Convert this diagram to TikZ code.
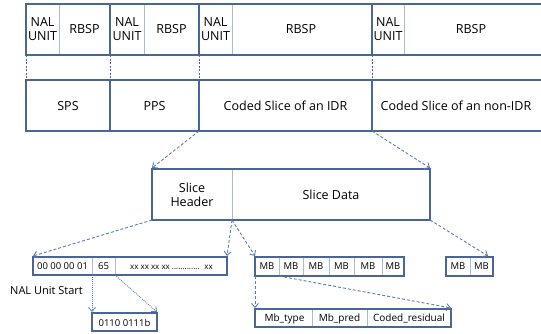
\documentclass[tikz,border=0pt]{standalone}
\usepackage{fontspec}
\setmainfont{Open Sans}
\usetikzlibrary{arrows.meta}
\usepackage{xcolor}
\definecolor{frameblue}{RGB}{74,102,148}
\definecolor{lineblue}{RGB}{165,188,218}
\definecolor{arrowblue}{RGB}{88,124,188}
\tikzset{
  frame/.style={frameblue, line width=1.6pt, line cap=rect},
  divider/.style={lineblue, line width=0.9pt},
  gap/.style={frameblue, dash pattern=on 2pt off 1.5pt, line width=0.7pt},
  link/.style={arrowblue, dash pattern=on 3pt off 2pt, line width=0.9pt, -{Straight Barb[length=4pt,width=7pt]}},
  dotlink/.style={arrowblue, dash pattern=on 1pt off 1pt, line width=0.8pt, -{Straight Barb[length=4pt,width=7pt]}},
  lbl/.style={font=\fontsize{12.5}{14}\selectfont, align=center, inner sep=0pt},
  small/.style={font=\fontsize{9.5}{11}\selectfont, inner sep=0pt}
}
\begin{document}
\begin{tikzpicture}[x=1pt,y=-1pt]
\useasboundingbox (0,0) rectangle (541,333);
% NAL stream rows
\foreach \y in {4,55,80,131} \draw[frame] (26,\y) -- (545,\y);
\foreach \x in {26,110,199,372} {
  \draw[frame] (\x,4) -- (\x,55);
  \draw[gap] (\x,55) -- (\x,80);
  \draw[frame] (\x,80) -- (\x,131);
}
\foreach \x in {59,144,232,404} \draw[divider] (\x,4.8) -- (\x,54.2);
\node[lbl] (nalA) at (42.5,29.5) {NAL\\UNIT};
\node[lbl] (rbspA) at (84.5,29.5) {RBSP};
\node[lbl] (nalB) at (127,29.5) {NAL\\UNIT};
\node[lbl] (rbspB) at (171.5,29.5) {RBSP};
\node[lbl] (nalC) at (215.5,29.5) {NAL\\UNIT};
\node[lbl] (rbspC) at (301,29.5) {RBSP};
\node[lbl] (nalD) at (388,29.5) {NAL\\UNIT};
\node[lbl] (rbspD) at (471,29.5) {RBSP};
\node[lbl] (sps) at (68,106) {SPS};
\node[lbl] (pps) at (154.5,106) {PPS};
\node[lbl] (idr) at (285.5,106) {Coded Slice of an IDR};
\node[lbl] (nonidr) at (456,106) {Coded Slice of an non-IDR};
\coordinate (idrL) at (199,131);
\coordinate (nonidrL) at (372,131);
% slice
\draw[frame] (152,169) rectangle (430,220);
\draw[divider] (232,169.8) -- (232,219.2);
\coordinate (sliceTL) at (152,168);
\coordinate (sliceTR) at (430,168);
\coordinate (sliceBL) at (152,220);
\coordinate (sliceBM) at (232,220);
\coordinate (sliceBR) at (430,220);
\node[lbl] (hdr) at (192,194.5) {Slice\\Header};
\node[lbl] (data) at (331,194.5) {Slice Data};
\draw[link] (idrL) -- (sliceTL);
\draw[link] (nonidrL) -- (sliceTR);
% header bytes
\draw[frame] (33,257) rectangle (227,275);
\draw[divider] (92,257.8) -- (92,274.2);
\draw[divider] (115,257.8) -- (115,274.2);
\node[small] (start) at (62.5,266.5) {00 00 00 01};
\node[small] (nalbyte) at (103.5,266.5) {65};
\node[font=\fontsize{8}{9}\selectfont, inner sep=0pt] (rest) at (171.5,267) {xx xx xx xx ............. \ xx};
\node[font=\fontsize{11}{13}\selectfont, inner sep=0pt] (startlbl) at (46.5,291) {NAL Unit Start};
\draw[frame] (92,313) rectangle (157,331);
\node[small] (bits) at (124.5,322.5) {0110 0111b};
\coordinate (hdrTL) at (33,256);
\coordinate (hdrTR) at (227,256);
\coordinate (byteL) at (92,275);
\coordinate (byteR) at (115,275);
\coordinate (bitsTL) at (92,312);
\coordinate (bitsTR) at (157,312);
\draw[link] (sliceBL) -- (hdrTL);
\draw[link] (sliceBM) -- (hdrTR);
\draw[dotlink] (byteL) -- (bitsTL);
\draw[dotlink] (byteR) -- (bitsTR);
% macroblocks
\draw[frame] (255,257) rectangle (404,276);
\foreach \x in {279,303,329,354,382} \draw[divider] (\x,257.8) -- (\x,275.2);
\foreach \x/\n in {267/1,291/2,316/3,341.5/4,368/5,393/6}
  \node[small] (mb\n) at (\x,266.5) {MB};
\draw[frame] (446,257) rectangle (493,276);
\draw[divider] (470,257.8) -- (470,275.2);
\node[small] (mbx1) at (458,266.5) {MB};
\node[small] (mbx2) at (481.5,266.5) {MB};
\coordinate (mbTL) at (255,256);
\coordinate (mbxTR) at (488,256);
\coordinate (mbBL) at (255,276);
\coordinate (mbBM) at (279,276);
\draw[link] (sliceBM) -- (mbTL);
\draw[link] (sliceBR) -- (mbxTR);
% macroblock syntax
\draw[frame] (255,309) rectangle (451,327);
\draw[divider] (312,309.8) -- (312,326.2);
\draw[divider] (367,309.8) -- (367,326.2);
\node[small, font=\fontsize{10}{12}\selectfont] (mbtype) at (284.5,318.5) {Mb\_type};
\node[small, font=\fontsize{10}{12}\selectfont] (mbpred) at (339.5,318.5) {Mb\_pred};
\node[small, font=\fontsize{10}{12}\selectfont] (resid) at (409,318.5) {Coded\_residual};
\coordinate (synTL) at (255,308);
\coordinate (synTR) at (451,308);
\draw[link] (mbBL) -- (synTL);
\draw[link] (mbBM) -- (synTR);
\end{tikzpicture}
\end{document}
